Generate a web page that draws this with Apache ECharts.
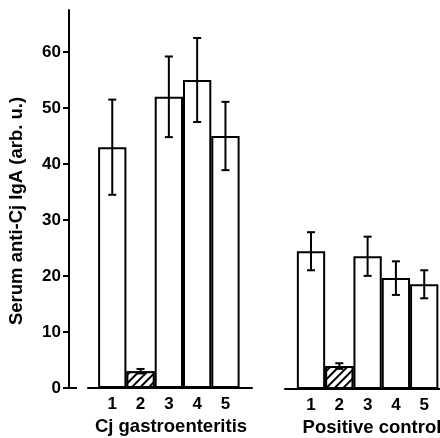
<!DOCTYPE html>
<html><head><meta charset="utf-8">
<script src="https://cdn.jsdelivr.net/npm/echarts@6/dist/echarts.min.js"></script>
<style>html,body{margin:0;padding:0;background:#fff}#c{width:440px;height:438px}</style>
</head><body><div id="c"></div>
<script>
const categories = ['1', '2', '3', '4', '5'];
const gastroValues = [43, 3.0, 52, 55, 45];
const gastroErrors = [8.5, 0.4, 7.2, 7.5, 6.1];
const controlValues = [24.6, 4.1, 23.7, 19.8, 18.7];
const controlErrors = [3.4, 0.5, 3.5, 3.0, 2.5];
const yTicks = [0, 10, 20, 30, 40, 50, 60];
const panelNames = ['Cj gastroenteritis', 'Positive control'];
const yName = 'Serum anti-Cj IgA (arb. u.)';
const hatchedIndex = 1;

const FONT = 'Liberation Sans';
const ink = '#000';
const catPos = categories.map((c, i) => i + 1);

function barData(vals) {
  return vals.map((v, i) => ({
    value: [catPos[i], v],
    itemStyle: i === hatchedIndex ? {
      decal: {
        symbol: 'rect', symbolSize: 1,
        dashArrayX: [[1, 0]], dashArrayY: [1.2, 3.2],
        rotation: -Math.PI / 4,
        color: ink, backgroundColor: '#fff'
      }
    } : undefined
  }));
}
function errData(vals, errs) {
  return vals.map((v, i) => [catPos[i], v - errs[i], v + errs[i]]);
}
function renderErr(params, api) {
  const x = api.value(0);
  const lo = api.coord([x, api.value(1)]);
  const hi = api.coord([x, api.value(2)]);
  const cw = 4;
  const style = { stroke: ink, lineWidth: 2 };
  return {
    type: 'group', children: [
      { type: 'line', shape: { x1: lo[0], y1: lo[1], x2: hi[0], y2: hi[1] }, style },
      { type: 'line', shape: { x1: lo[0] - cw, y1: lo[1], x2: lo[0] + cw, y2: lo[1] }, style },
      { type: 'line', shape: { x1: hi[0] - cw, y1: hi[1], x2: hi[0] + cw, y2: hi[1] }, style }
    ]
  };
}
const labelStyle = { color: ink, fontFamily: FONT, fontWeight: 'bold', fontSize: 17 };
const lineStyle = { color: ink, width: 2 };

function xAxis(grid, min, max, name, pad) {
  return {
    gridIndex: grid, type: 'value', min, max,
    axisLine: { show: true, lineStyle },
    axisTick: { show: false },
    splitLine: { show: false },
    axisLabel: Object.assign({ customValues: catPos, margin: 8,
      formatter: v => categories[Math.round(v) - 1] }, labelStyle),
    name, nameLocation: 'middle', nameGap: 28,
    nameTextStyle: Object.assign({}, labelStyle, { fontSize: 18.5, padding: pad })
  };
}

const chart = echarts.init(document.getElementById('c'), null, { renderer: 'canvas' });
chart.setOption({
  backgroundColor: '#fff',
  animation: false,
  grid: [
    { left: 88, right: 188, top: 10, bottom: 50, outerBoundsMode: 'none', containLabel: false },
    { left: 285, right: 0, top: 11, bottom: 49, outerBoundsMode: 'none', containLabel: false }
  ],
  xAxis: [
    xAxis(0, 0.143, 5.938, panelNames[0], [0, 0, 0, 2]),
    xAxis(1, 0.081, 5.558, panelNames[1], [0, 0, 0, 19])
  ],
  yAxis: [
    {
      gridIndex: 0, type: 'value', position: 'left', min: 0, max: 67.5, offset: 19,
      axisLine: { show: true, lineStyle },
      axisTick: { show: true, length: 6, lineStyle, customValues: yTicks },
      axisLabel: Object.assign({ customValues: yTicks, margin: 8 }, labelStyle),
      splitLine: { show: false },
      name: yName, nameLocation: 'middle', nameGap: 43,
      nameTextStyle: Object.assign({}, labelStyle, { fontSize: 18.5, padding: [0, 24, 0, 0] })
    },
    {
      gridIndex: 0, type: 'value', position: 'left', min: 0, max: 67.5, offset: 19,
      axisLine: { show: false },
      axisTick: { show: true, inside: true, length: 8, lineStyle, customValues: [0] },
      axisLabel: { show: false }, splitLine: { show: false }
    },
    { gridIndex: 1, type: 'value', min: 0, max: 67.5, show: false }
  ],
  series: [
    { type: 'bar', xAxisIndex: 0, yAxisIndex: 0, barWidth: 28.3, data: barData(gastroValues),
      itemStyle: { color: '#fff', borderColor: ink, borderWidth: 2 } },
    { type: 'bar', xAxisIndex: 1, yAxisIndex: 2, barWidth: 28.3, data: barData(controlValues),
      itemStyle: { color: '#fff', borderColor: ink, borderWidth: 2 } },
    { type: 'custom', xAxisIndex: 0, yAxisIndex: 0, data: errData(gastroValues, gastroErrors),
      encode: { x: 0, y: [1, 2] }, renderItem: renderErr, z: 5 },
    { type: 'custom', xAxisIndex: 1, yAxisIndex: 2, data: errData(controlValues, controlErrors),
      encode: { x: 0, y: [1, 2] }, renderItem: renderErr, z: 5 }
  ]
});
</script></body></html>
